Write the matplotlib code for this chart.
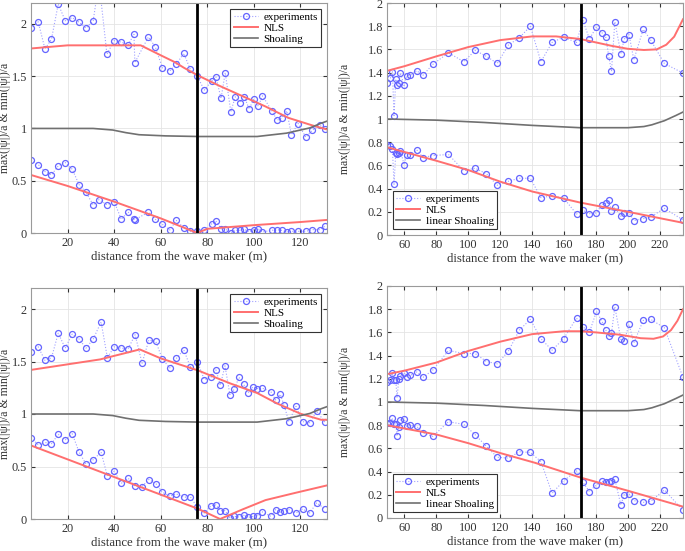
import matplotlib
matplotlib.use('Agg')
import matplotlib.pyplot as plt

plt.rcParams['font.family'] = ['Liberation Serif', 'DejaVu Serif']

# ---------------- top left ----------------
tl_x = [4.3, 7.4, 10.3, 13.1, 16, 19, 22, 25, 27.9, 31, 33.5, 36.9, 40, 43.1, 46, 48.5, 48.9,
        54.7, 57.7, 60.7, 63.9, 66.7, 69.9, 72.7, 75.7, 78.7, 82, 83.7, 85.9, 87.7, 90.1,
        92, 93.9, 95.9, 98, 99.9, 101.9, 103.7, 107.7, 110, 111.9, 114.1, 116.1, 119,
        122.3, 125.1, 128.3, 130.6]
tl_max = [1.96, 2.02, 1.76, 1.855, 2.19, 2.03, 2.06, 2.015, 1.96, 2.03, 2.4, 1.71, 1.84, 1.826,
          1.80, 1.90, 1.63, 1.875, 1.78, 1.58, 1.55, 1.615, 1.718, 1.565, 1.50, 1.367, 1.456,
          1.494, 1.287, 1.533, 1.159, 1.303, 1.248, 1.303, 1.185, 1.283, 1.213, 1.312, 1.169,
          1.079, 1.098, 1.169, 0.942, 1.047, 0.916, 0.983, 1.031, 0.999]
tl_min = [0.696, 0.655, 0.587, 0.556, 0.642, 0.674, 0.61, 0.46, 0.39, 0.268, 0.319, 0.271, 0.30,
          0.131, 0.201, 0.13, 0.128, 0.198, 0.131, 0.083, 0.029, 0.12, 0.05, 0.016, 0.022,
          0.026, 0.089, 0.115, 0.04, 0.04, 0.003, 0.026, 0.026, 0.035, 0.01, 0.032, 0.04,
          0.01, 0.026, 0.032, 0.026, 0.01, 0.016, 0.016, 0.016, 0.032, 0.032, 0.067]
tl_nls_x_max = [4.3, 20, 35, 51.4, 60, 66, 70, 75.7, 85, 95, 105, 115, 125, 131.4]
tl_nls_max = [1.765, 1.795, 1.795, 1.795, 1.70, 1.635, 1.58, 1.51, 1.41, 1.31, 1.21, 1.10, 1.03, 0.99]
tl_nls_x_min = [4.3, 20, 40, 60, 75.7, 80, 100, 120, 131.4]
tl_nls_min = [0.555, 0.45, 0.30, 0.14, 0.0, 0.04, 0.075, 0.105, 0.125]

# ---------------- bottom left ----------------
bl_x = [4.3, 7.4, 10.3, 13.1, 16, 19, 22, 25, 27.9, 31, 34.4, 37.1, 40, 43.1, 46, 49, 52,
        54.9, 57.9, 60.7, 63.9, 66.7, 69.9, 72.7, 75.7, 78.7, 81.6, 83.7, 85.6, 87.6, 89.7,
        91.6, 93.6, 95.6, 97.6, 99.6, 101.4, 103.4, 107.3, 109.3, 111.3, 113, 115, 118.1,
        120.9, 123.9, 127, 130.6]
bl_max = [1.586, 1.64, 1.51, 1.535, 1.77, 1.627, 1.761, 1.713, 1.627, 1.713, 1.876, 1.535, 1.64,
          1.627, 1.621, 1.755, 1.484, 1.704, 1.691, 1.522, 1.439, 1.529, 1.611, 1.449, 1.50,
          1.328, 1.35, 1.42, 1.274, 1.459, 1.185, 1.236, 1.35, 1.283, 1.204, 1.258, 1.242,
          1.248, 1.213, 1.134, 1.188, 1.083, 0.927, 1.073, 0.927, 0.917, 1.025, 0.92]
bl_min = [0.774, 0.707, 0.729, 0.717, 0.806, 0.755, 0.812, 0.634, 0.525, 0.564, 0.637, 0.408,
          0.455, 0.341, 0.389, 0.312, 0.309, 0.376, 0.338, 0.255, 0.217, 0.239, 0.207, 0.213,
          0.111, 0.057, 0.127, 0.134, 0.08, 0.08, 0.013, 0.025, 0.019, 0.035, 0.016, 0.025,
          0.032, 0.07, 0.025, 0.089, 0.064, 0.08, 0.089, 0.057, 0.096, 0.057, 0.153, 0.096]
bl_nls_x_max = [4.3, 34, 51, 60, 76, 90, 101.4, 110, 120, 128.9, 131.4]
bl_nls_max = [1.42, 1.52, 1.615, 1.53, 1.415, 1.29, 1.20, 1.10, 1.003, 0.945, 0.945]
bl_nls_x_min = [4.3, 40, 65, 75.7, 85.5, 95, 105, 118, 131.4]
bl_nls_min = [0.70, 0.40, 0.19, 0.10, 0.0, 0.09, 0.18, 0.25, 0.32]

# shoaling (left panels share the same bathymetry)
l_sh_x = [4.3, 31, 39.4, 45, 50.7, 62, 76, 101.4, 114, 124, 128.9, 131.4]
l_sh = [1.0, 1.0, 0.985, 0.96, 0.94, 0.929, 0.923, 0.923, 0.955, 1.005, 1.05, 1.07]

# ---------------- top right ----------------
tr_x = [49.1, 51.2, 52.5, 53.5, 54.6, 55.4, 56.5, 57.5, 59.8, 61.5, 63.8, 67.7, 71.7, 77.7,
        87.6, 97.2, 104.3, 111.4, 118.2, 125.1, 132, 138.9, 145.5, 152.5, 159.7, 167.8,
        171.8, 175.9, 180.3, 183.7, 186.1, 188, 189.7, 191.8, 195.6, 197.7, 200.7, 203.7,
        209.6, 214.3, 222.8, 234.5]
tr_max = [1.309, 1.35, 1.407, 1.03, 1.344, 1.295, 1.309, 1.396, 1.289, 1.373, 1.378, 1.416,
          1.378, 1.47, 1.571, 1.494, 1.591, 1.54, 1.479, 1.637, 1.701, 1.799, 1.494, 1.66,
          1.706, 1.66, 1.85, 1.69, 1.793, 1.744, 1.709, 1.54, 1.41, 1.839, 1.563, 1.689,
          1.727, 1.511, 1.773, 1.68, 1.479, 1.396]
tr_min = [0.774, 0.763, 0.742, 0.437, 0.711, 0.696, 0.705, 0.728, 0.607, 0.691, 0.691, 0.734,
          0.668, 0.685, 0.694, 0.555, 0.576, 0.527, 0.429, 0.463, 0.489, 0.489, 0.322, 0.337,
          0.319, 0.181, 0.213, 0.184, 0.19, 0.262, 0.273, 0.302, 0.204, 0.239, 0.161, 0.193,
          0.193, 0.124, 0.141, 0.155, 0.23, 0.13]
tr_nls_x_max = [49.1, 60, 80, 100, 120, 140, 155, 170, 180, 190, 200, 210, 218, 224, 229, 234.5]
tr_nls_max = [1.415, 1.455, 1.54, 1.62, 1.68, 1.712, 1.712, 1.69, 1.66, 1.63, 1.605, 1.595,
              1.60, 1.64, 1.71, 1.86]
tr_nls_x_min = [49.1, 80, 100, 120, 140, 170, 200, 234.5]
tr_nls_min = [0.757, 0.64, 0.56, 0.46, 0.375, 0.28, 0.20, 0.105]

# ---------------- bottom right ----------------
br_x = [49.1, 50.7, 52.3, 53.5, 54.6, 55.4, 56.5, 57.5, 59.8, 61.5, 63.8, 67.7, 71.7, 77.7,
        87.6, 97.2, 104.3, 111.4, 118.2, 125.1, 132, 138.9, 145.5, 152.5, 159.7, 167.8,
        171.8, 175.9, 180.3, 183.7, 186.1, 188, 189.7, 191.8, 195.6, 197.7, 200.7, 203.7,
        209.6, 214.3, 222.8, 234.5]
br_max = [1.17, 1.193, 1.248, 1.193, 1.187, 1.035, 1.199, 1.222, 1.254, 1.219, 1.23, 1.259,
          1.213, 1.274, 1.444, 1.418, 1.418, 1.349, 1.329, 1.438, 1.62, 1.712, 1.545, 1.447,
          1.545, 1.723, 1.648, 1.602, 1.781, 1.697, 1.622, 1.565, 1.591, 1.821, 1.539, 1.524,
          1.669, 1.51, 1.703, 1.712, 1.64, 1.213]
br_min = [0.816, 0.818, 0.862, 0.813, 0.81, 0.706, 0.787, 0.847, 0.856, 0.79, 0.798, 0.79,
          0.735, 0.703, 0.83, 0.807, 0.718, 0.617, 0.524, 0.516, 0.571, 0.565, 0.487, 0.213,
          0.32, 0.406, 0.308, 0.228, 0.288, 0.317, 0.308, 0.314, 0.323, 0.334, 0.112, 0.202,
          0.21, 0.15, 0.135, 0.144, 0.242, 0.066]
br_nls_x_max = [49.1, 60, 80, 100, 120, 140, 160, 170, 180, 195, 208, 216, 222, 227, 231, 234.5]
br_nls_max = [1.24, 1.27, 1.34, 1.44, 1.52, 1.585, 1.61, 1.61, 1.60, 1.58, 1.55, 1.545, 1.565,
              1.62, 1.70, 1.80]
br_nls_x_min = [49.1, 80, 100, 120, 142, 170, 200, 234.5]
br_nls_min = [0.80, 0.72, 0.645, 0.56, 0.475, 0.35, 0.235, 0.098]

# shoaling (right panels)
r_sh_x = [49.1, 80, 110, 140, 170, 200, 210, 215, 222.8, 230, 234.5]
r_sh = [1.0, 0.99, 0.97, 0.945, 0.925, 0.925, 0.935, 0.95, 0.985, 1.03, 1.06]

XLABEL = 'distance from the wave maker (m)'
YLABEL = 'max(|ψ|)/a & min(|ψ|)/a'


def panel(rect, x, ymax, ymin, nx_max, nmax, nx_min, nmin, sx, sy, xlim, ylim,
          xticks, yticks, vline, sh_label, legend_loc, ylab_x):
    ax = fig.add_axes(rect)
    ax.plot(x, ymax, linestyle=':', color='#a0a0ff', lw=0.8, marker='o', markersize=4.3,
            markerfacecolor='none', markeredgecolor='#6464ff', mew=0.9, label='experiments')
    ax.plot(x, ymin, linestyle=':', color='#a0a0ff', lw=0.8, marker='o', markersize=4.3,
            markerfacecolor='none', markeredgecolor='#6464ff', mew=0.9)
    ax.plot(nx_max, nmax, color='#ff6f6f', lw=1.4, label='NLS')
    ax.plot(nx_min, nmin, color='#ff6f6f', lw=1.4)
    ax.plot(sx, sy, color='#707070', lw=1.2, label=sh_label)
    ax.axvline(vline, color='black', lw=2)
    ax.set_xlim(*xlim)
    ax.set_ylim(*ylim)
    ax.set_xticks(xticks)
    ax.set_yticks(yticks)
    ax.set_yticklabels([('%g' % t) for t in yticks])
    ax.grid(True, color='#e4e4e4', lw=0.6)
    ax.tick_params(direction='in', top=True, right=True, labelsize=8.8,
                   colors='#333333', length=3, pad=3)
    for s in ax.spines.values():
        s.set_color('#9a9a9a')
        s.set_linewidth(0.8)
    ax.set_xlabel(XLABEL, fontsize=9.2, color='#333333', labelpad=1)
    ax.set_ylabel(YLABEL, fontsize=8.5, color='#333333')
    ax.yaxis.set_label_coords(ylab_x, 0.5)
    leg = ax.legend(loc=legend_loc, fontsize=8, fancybox=False, framealpha=1,
                    edgecolor='#333333', handlelength=2.2, handletextpad=0.5,
                    borderpad=0.3, labelspacing=0.12, borderaxespad=0.5)
    leg.get_frame().set_linewidth(0.8)
    return ax


fig = plt.figure(figsize=(6.85, 5.51), dpi=100)

lt = [20, 40, 60, 80, 100, 120]
rt = [60, 80, 100, 120, 140, 160, 180, 200, 220]
ly = [0, 0.5, 1, 1.5, 2]
ry = [0, 0.2, 0.4, 0.6, 0.8, 1, 1.2, 1.4, 1.6, 1.8, 2]

panel([31 / 685, 1 - 233 / 551, 296 / 685, 230 / 551], tl_x, tl_max, tl_min,
      tl_nls_x_max, tl_nls_max, tl_nls_x_min, tl_nls_min, l_sh_x, l_sh,
      (4.3, 131.4), (0, 2.2), lt, ly, 75.7, 'Shoaling', 'upper right', -0.068)
panel([387 / 685, 1 - 235 / 551, 296 / 685, 232 / 551], tr_x, tr_max, tr_min,
      tr_nls_x_max, tr_nls_max, tr_nls_x_min, tr_nls_min, r_sh_x, r_sh,
      (49.1, 234.5), (0, 2), rt, ry, 170.4, 'linear Shoaling', 'lower left', -0.12)
panel([31 / 685, 1 - 519 / 551, 296 / 685, 231 / 551], bl_x, bl_max, bl_min,
      bl_nls_x_max, bl_nls_max, bl_nls_x_min, bl_nls_min, l_sh_x, l_sh,
      (4.3, 131.4), (0, 2.2), lt, ly, 75.7, 'Shoaling', 'upper right', -0.068)
panel([387 / 685, 1 - 518 / 551, 296 / 685, 232 / 551], br_x, br_max, br_min,
      br_nls_x_max, br_nls_max, br_nls_x_min, br_nls_min, r_sh_x, r_sh,
      (49.1, 234.5), (0, 2), rt, ry, 170.4, 'linear Shoaling', 'lower left', -0.12)

fig.savefig('out.png', dpi=100)
